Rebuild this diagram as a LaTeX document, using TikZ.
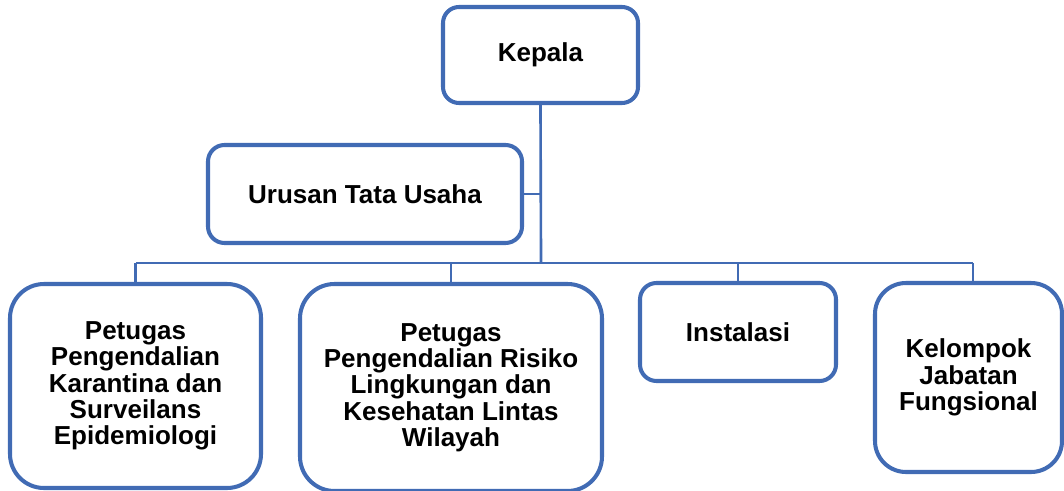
\documentclass[tikz,border=0pt]{standalone}
\usepackage{fontspec}
\setmainfont{Liberation Sans}
\usepackage{xcolor}
\usepackage{tikz}
\definecolor{orgblue}{HTML}{416BB4}

\begin{document}
\begin{tikzpicture}[
    unit/.style={draw=orgblue, line width=2.3pt, align=center, inner sep=0pt,
        font=\fontsize{14.8}{15}\selectfont\bfseries},
    link/.style={draw=orgblue, line width=1.5pt}
]
    \useasboundingbox (0,0) rectangle (21.28,-9.82);

    \node[unit, rounded corners=0.32cm, minimum width=3.9cm, minimum height=1.92cm] at (10.81, -1.1) (kepala) {Kepala};
    \node[unit, rounded corners=0.33cm, minimum width=6.28cm, minimum height=1.96cm] at (7.3, -3.88) (urusan) {Urusan Tata Usaha};

    \node[unit, rounded corners=0.68cm, minimum width=5.02cm, minimum height=4.08cm] at (2.71, -7.72) (karantina) {Petugas\\Pengendalian\\Karantina dan\\Surveilans\\Epidemiologi};
    \node[unit, rounded corners=0.69cm, minimum width=6.04cm, minimum height=4.14cm] at (9.02, -7.75) (risiko) {Petugas\\Pengendalian Risiko\\Lingkungan dan\\Kesehatan Lintas\\Wilayah};
    \node[unit, rounded corners=0.33cm, minimum width=3.92cm, minimum height=1.96cm] at (14.76, -6.64) (instalasi) {Instalasi};
    \node[unit, rounded corners=0.62cm, minimum width=3.74cm, minimum height=3.78cm] at (19.37, -7.55) (fungsional) {Kelompok\\Jabatan\\Fungsional};

    \coordinate (bus) at (10.82, -5.26);
    \coordinate (fdrop) at ([xshift=0.09cm]fungsional.north);

    \draw[link] (kepala.south) -- (bus);
    \draw[link] (urusan.east) -- (urusan.east -| bus);
    \draw[link] (karantina.north |- bus) -- (fdrop |- bus);
    \draw[link] (karantina.north |- bus) -- (karantina.north);
    \draw[link] (risiko.north |- bus) -- (risiko.north);
    \draw[link] (instalasi.north |- bus) -- (instalasi.north);
    \draw[link] (fdrop |- bus) -- (fdrop);
\end{tikzpicture}
\end{document}
